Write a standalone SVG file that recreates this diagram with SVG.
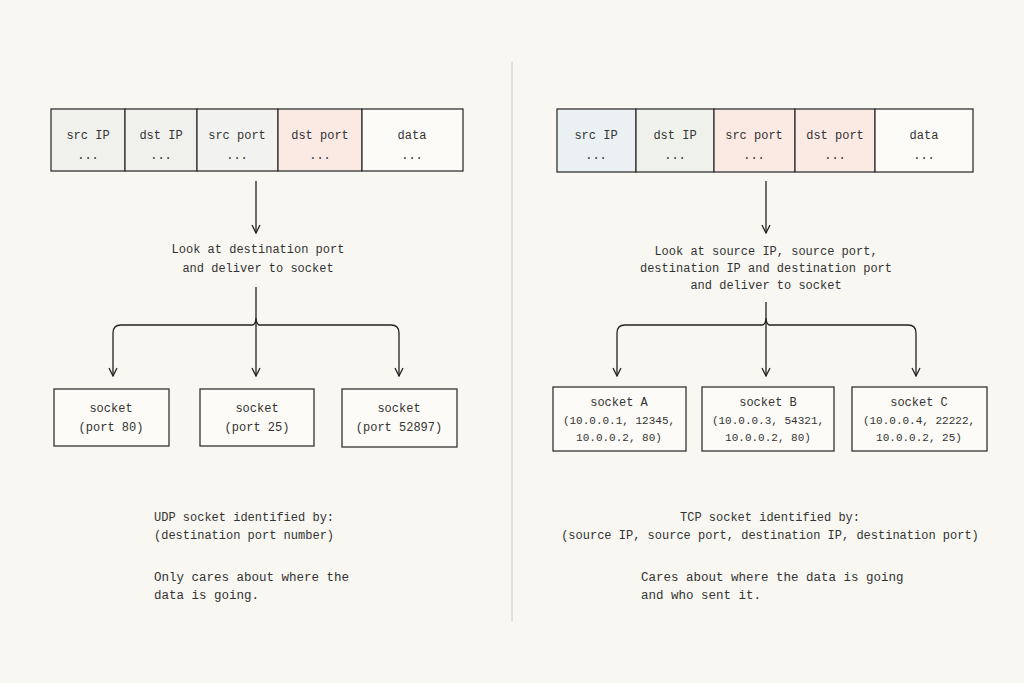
<svg xmlns="http://www.w3.org/2000/svg" width="1024" height="683" viewBox="0 0 1024 683">
<defs>
<marker id="ah" viewBox="0 0 10 10" refX="9" refY="5" markerWidth="10" markerHeight="10" markerUnits="userSpaceOnUse" orient="auto"><path d="M1,1 L9,5 L1,9" fill="none" stroke="#222" stroke-width="1.3"/></marker>
<style>
text{font-family:"Liberation Mono","DejaVu Sans Mono",monospace;font-size:12px;fill:#333;text-anchor:middle}
.l{text-anchor:start}
.s{font-size:11px}
.n{font-size:12.5px}
.c{stroke:#333;stroke-width:1.3}
.b{fill:#fcfbf7;stroke:#333;stroke-width:1.3}
.w{fill:none;stroke:#222;stroke-width:1.3;marker-end:url(#ah)}
</style>
</defs>
<rect width="1024" height="683" fill="#f8f7f2"/>
<line x1="512" y1="62" x2="512" y2="622" stroke="#ccc" stroke-width="1"/>
<g id="udp-packet">
<rect class="c" x="51" y="109" width="74" height="62" fill="#f0f0ec"/>
<rect class="c" x="125" y="109" width="72" height="62" fill="#f0f0ec"/>
<rect class="c" x="197" y="109" width="81" height="62" fill="#f2f3f0"/>
<rect class="c" x="278" y="109" width="84" height="62" fill="#fbe9e4"/>
<rect class="c" x="362" y="109" width="101" height="62" fill="#fcfbf8"/>
<text x="88" y="139">src IP</text><text x="88" y="159">...</text>
<text x="161" y="139">dst IP</text><text x="161" y="159">...</text>
<text x="237" y="139">src port</text><text x="237" y="159">...</text>
<text x="320" y="139">dst port</text><text x="320" y="159">...</text>
<text x="412" y="139">data</text><text x="412" y="159">...</text>
</g>
<g id="tcp-packet">
<rect class="c" x="557" y="109" width="79" height="63" fill="#ebf1f3"/>
<rect class="c" x="636" y="109" width="78" height="63" fill="#eff2ea"/>
<rect class="c" x="714" y="109" width="81" height="63" fill="#fbe9e4"/>
<rect class="c" x="795" y="109" width="80" height="63" fill="#fbe9e4"/>
<rect class="c" x="875" y="109" width="98" height="63" fill="#fcfbf8"/>
<text x="596" y="139">src IP</text><text x="596" y="159">...</text>
<text x="675" y="139">dst IP</text><text x="675" y="159">...</text>
<text x="754" y="139">src port</text><text x="754" y="159">...</text>
<text x="835" y="139">dst port</text><text x="835" y="159">...</text>
<text x="924" y="139">data</text><text x="924" y="159">...</text>
</g>
<g id="udp-label"><text x="258" y="253">Look at destination port</text><text x="258" y="272">and deliver to socket</text></g>
<g id="tcp-label"><text x="766" y="255">Look at source IP, source port,</text><text x="766" y="272">destination IP and destination port</text><text x="766" y="289">and deliver to socket</text></g>
<g id="connectors">
<path class="w" d="M256,181 V233"/>
<path class="w" d="M256,287 V376"/>
<path class="w" d="M253,325 Q256,323 256,318 Q256,323 259,325 H391 Q399,325 399,333 V376"/>
<path class="w" d="M253,325 H121 Q113,325 113,333 V376"/>
<path class="w" d="M766,181 V233"/>
<path class="w" d="M766,302 V376"/>
<path class="w" d="M763,325 Q766,323 766,318 Q766,323 769,325 H908 Q916,325 916,333 V376"/>
<path class="w" d="M763,325 H625 Q617,325 617,333 V376"/>
</g>
<g id="udp-s1"><rect class="b" x="54" y="389" width="115" height="57"/><text x="111" y="412">socket</text><text x="111" y="431">(port 80)</text></g>
<g id="udp-s2"><rect class="b" x="200" y="389" width="114" height="57"/><text x="257" y="412">socket</text><text x="257" y="431">(port 25)</text></g>
<g id="udp-s3"><rect class="b" x="342" y="389" width="115" height="58"/><text x="399" y="412">socket</text><text x="399" y="431">(port 52897)</text></g>
<g id="tcp-a"><rect class="b" x="553" y="387" width="133" height="64"/><text x="619" y="406">socket A</text><text class="s" x="619" y="424">(10.0.0.1, 12345,</text><text class="s" x="619" y="441">10.0.0.2, 80)</text></g>
<g id="tcp-b"><rect class="b" x="702" y="387" width="132" height="64"/><text x="768" y="406">socket B</text><text class="s" x="768" y="424">(10.0.0.3, 54321,</text><text class="s" x="768" y="441">10.0.0.2, 80)</text></g>
<g id="tcp-c"><rect class="b" x="852" y="387" width="135" height="64"/><text x="919" y="406">socket C</text><text class="s" x="919" y="424">(10.0.0.4, 22222,</text><text class="s" x="919" y="441">10.0.0.2, 25)</text></g>
<g id="udp-notes">
<text class="l" x="154" y="521">UDP socket identified by:</text>
<text class="l" x="154" y="539">(destination port number)</text>
<text class="l n" x="154" y="581">Only cares about where the</text>
<text class="l n" x="154" y="599">data is going.</text>
</g>
<g id="tcp-notes">
<text x="770" y="521">TCP socket identified by:</text>
<text x="770" y="539">(source IP, source port, destination IP, destination port)</text>
<text class="l n" x="641" y="581">Cares about where the data is going</text>
<text class="l n" x="641" y="599">and who sent it.</text>
</g>
</svg>
